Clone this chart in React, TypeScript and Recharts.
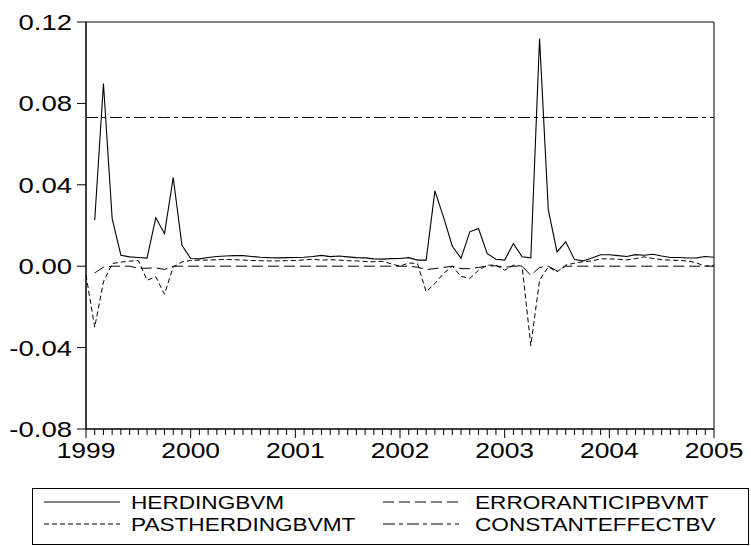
import React from "react";
import { LineChart, Line, XAxis, YAxis, ReferenceArea, Legend } from "recharts";

const FONT = "'Liberation Sans', Arial, sans-serif";

// monthly index, 0 = 1999M01 ... 72 = 2005M01
const months = Array.from({ length: 73 }, (_, i) => i);
const yearLabels = ["1999", "2000", "2001", "2002", "2003", "2004", "2005"];
const yTicks = [-0.08, -0.04, 0, 0.04, 0.08, 0.12];

const herding = [
  null, 0.0226, 0.0898, 0.0234, 0.0054, 0.0046, 0.0043, 0.004, 0.0238, 0.016,
  0.0436, 0.0103, 0.0038, 0.0036, 0.0043, 0.0048, 0.005, 0.0052, 0.0052, 0.0048,
  0.0044, 0.0042, 0.0041, 0.0042, 0.0043, 0.0044, 0.0048, 0.0053, 0.0047, 0.005,
  0.0046, 0.0042, 0.0041, 0.0036, 0.0035, 0.0037, 0.0038, 0.0042, 0.003, 0.003,
  0.037, 0.024, 0.0098, 0.0039, 0.0169, 0.0185, 0.0062, 0.0034, 0.003, 0.0111,
  0.0046, 0.0041, 0.1119, 0.0278, 0.007, 0.012, 0.0033, 0.0026, 0.004, 0.0056,
  0.0056, 0.0052, 0.0048, 0.0057, 0.0054, 0.0059, 0.005, 0.0043, 0.0043, 0.004,
  0.0041, 0.0048, 0.0044,
];

const pastHerding = [
  -0.0044, -0.03, -0.0077, 0.0013, 0.002, 0.0025, 0.0028, -0.0069, -0.0052, -0.0138,
  -0.0003, 0.0021, 0.0028, 0.003, 0.003, 0.0032, 0.0033, 0.0032, 0.003, 0.0028,
  0.0027, 0.0026, 0.0026, 0.0027, 0.0028, 0.0031, 0.0034, 0.003, 0.0032, 0.003,
  0.0027, 0.0026, 0.0023, 0.0022, 0.0024, 0.0012, 0.0, 0.0016, 0.0013, -0.0126,
  -0.0085, -0.0035, 0.0, -0.005, -0.006, -0.002, 0.0005, 0.0005, -0.002, 0.0005,
  0.0, -0.039, -0.0069, -0.0003, -0.0028, 0.0005, 0.0015, 0.0022, 0.0026, 0.0036,
  0.0036, 0.0034, 0.0031, 0.0037, 0.0046, 0.0038, 0.0032, 0.003, 0.0028, 0.0026,
  0.0016, 0.0, 0.0005,
];

const errorAnticip = [
  null, -0.0033, -0.0005, 0, 0, 0, -0.001, -0.001, -0.0008, -0.0016,
  0, 0, 0, 0, 0, 0, 0, 0, 0, 0,
  0, 0, 0, 0, 0, 0, 0, 0, 0, 0,
  0, 0, 0, 0, 0, 0, 0, 0, -0.0005, -0.0016,
  -0.0012, -0.0006, 0, -0.0012, -0.0012, -0.0006, 0, 0.0002, -0.0006, 0,
  0, -0.0045, -0.0006, 0, -0.0023, 0, 0, 0, 0, 0,
  0, 0, 0, 0, 0, 0, 0, 0, 0, 0,
  0, 0, 0,
];

const constantEffect = months.map(() => 0.0731);

const data = months.map((m, i) => ({
  m,
  herding: herding[i],
  pastHerding: pastHerding[i],
  errorAnticip: errorAnticip[i],
  constantEffect: constantEffect[i],
}));

const XTick = (props: any) => {
  const { x, y, payload } = props;
  const v = payload.value as number;
  const major = v % 12 === 0;
  return (
    <g>
      <line x1={x} x2={x} y1={y} y2={y + (major ? 9 : 6)} stroke="#000" />
      {major && (
        <text
          transform={`translate(${x},${y + 13}) scale(1.2,1)`}
          textAnchor="middle"
          dy="0.72em"
          fontSize={22}
          fontFamily={FONT}
          fill="#000"
        >
          {yearLabels[v / 12]}
        </text>
      )}
    </g>
  );
};

const YTick = (props: any) => {
  const { x, y, payload } = props;
  return (
    <text
      transform={`translate(${x},${y}) scale(1.25,1)`}
      textAnchor="end"
      dy="0.36em"
      fontSize={22}
      fontFamily={FONT}
      fill="#000"
    >
      {(payload.value as number).toFixed(2)}
    </text>
  );
};

const legendRows = [
  [
    { name: "HERDINGBVM", dash: undefined },
    { name: "ERRORANTICIPBVMT", dash: "11 5" },
  ],
  [
    { name: "PASTHERDINGBVMT", dash: "5 3" },
    { name: "CONSTANTEFFECTBV", dash: "12 4 4 4" },
  ],
];

const renderLegend = () => (
  <svg width={717} height={57} style={{ display: "block" }}>
    <rect x={0.5} y={0.5} width={716} height={56} fill="#fff" stroke="#000" />
    {legendRows.map((row, r) =>
      row.map((item, c) => {
        const cy = 14 + r * 22;
        const lx = c === 0 ? 12 : 351;
        const tx = c === 0 ? 99 : 443;
        return (
          <g key={item.name}>
            <line x1={lx} x2={lx + 76} y1={cy} y2={cy} stroke="#000" strokeDasharray={item.dash} />
            <text
              transform={`translate(${tx},${cy}) scale(1.19,1)`}
              dy="0.36em"
              fontSize={19}
              fontFamily={FONT}
              fill="#000"
            >
              {item.name}
            </text>
          </g>
        );
      })
    )}
  </svg>
);

export default function App() {
  return (
    <div style={{ position: "absolute", left: 0, top: 0, width: 751, height: 546, background: "#fff" }}>
      <LineChart width={751} height={546} data={data} margin={{ top: 22, right: 37, left: 0, bottom: 0 }}>
        <XAxis
          dataKey="m"
          type="number"
          domain={[0, 72]}
          ticks={months}
          interval={0}
          tickLine={false}
          tickSize={0}
          tickMargin={0}
          tick={<XTick />}
          axisLine={{ stroke: "#000" }}
          height={117}
        />
        <YAxis
          type="number"
          domain={[-0.08, 0.12]}
          ticks={yTicks}
          interval={0}
          tickSize={9}
          tickMargin={5}
          tick={<YTick />}
          tickLine={{ stroke: "#000" }}
          axisLine={{ stroke: "#000" }}
          width={86}
        />
        <ReferenceArea x1={0} x2={72} y1={-0.08} y2={0.12} fill="none" stroke="#000" strokeWidth={1} />
        <Line dataKey="constantEffect" stroke="#000" strokeWidth={1} strokeDasharray="12 4 4 4" dot={false} isAnimationActive={false} />
        <Line dataKey="errorAnticip" stroke="#000" strokeWidth={1} strokeDasharray="11 5" dot={false} isAnimationActive={false} />
        <Line dataKey="pastHerding" stroke="#000" strokeWidth={1} strokeDasharray="5 3" dot={false} isAnimationActive={false} />
        <Line dataKey="herding" stroke="#000" strokeWidth={1.1} dot={false} isAnimationActive={false} />
        <Legend
          layout="horizontal"
          verticalAlign="middle"
          align="center"
          content={renderLegend}
          wrapperStyle={{ left: 32, top: 488, width: 717, height: 57 }}
        />
      </LineChart>
    </div>
  );
}
